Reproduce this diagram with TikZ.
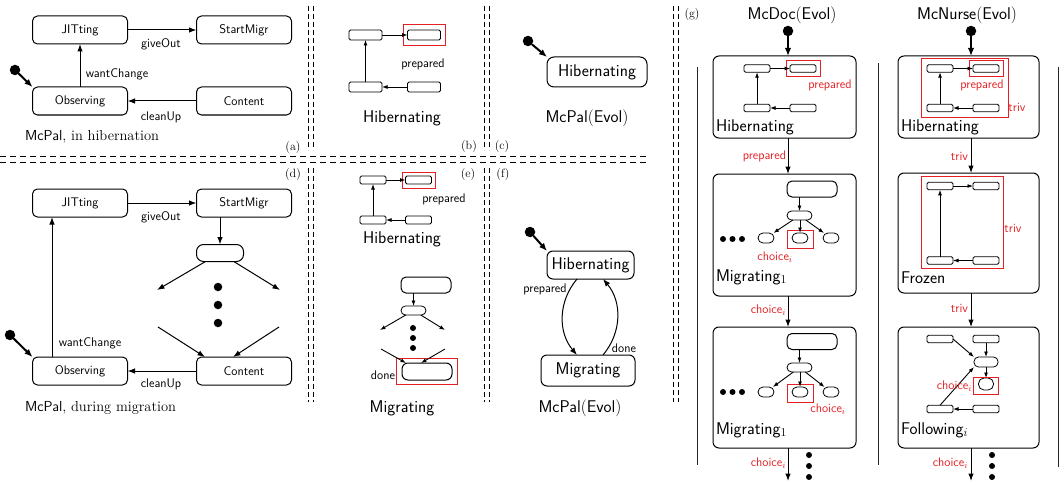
\documentclass[tikz,border=0pt]{standalone}
\usetikzlibrary{arrows.meta,fit}
\definecolor{hl}{RGB}{228,32,36}
\begin{document}
\begin{tikzpicture}[x=1pt,y=-1pt,
  every node/.style={inner sep=0pt,outer sep=0pt},
  lbl/.style={font=\sffamily\fontsize{12.5}{14}\selectfont},
  redlbl/.style={lbl,text=hl},
  big/.style={font=\sffamily\fontsize{17}{19}\selectfont},
  tag/.style={font=\rmfamily\fontsize{12}{14}\selectfont},
  captxt/.style={anchor=west,font=\rmfamily\fontsize{14.5}{16}\selectfont},
  state/.style={draw,line width=1pt,rounded corners=5pt,minimum width=95pt,minimum height=28pt,lbl},
  bigstate/.style={draw,line width=1pt,rounded corners=6pt,minimum width=143pt},
  mini/.style={draw,line width=0.8pt,rounded corners=1.5pt,minimum width=#1,minimum height=8pt},
  mini/.default=26pt,
  pill/.style={draw,line width=0.8pt,rounded corners=#1},
  pill/.default=4.5pt,
  redbox/.style={draw=hl,line width=0.9pt},
  arr/.style={-{Latex[length=7.5pt,width=5.5pt]},line width=1pt},
  sarr/.style={-{Latex[length=5.5pt,width=4pt]},line width=0.9pt},
  init/.style={-{Latex[length=8pt,width=6.5pt]},line width=2pt},
  idot/.style={circle,fill,minimum size=10.5pt},
  sdot/.style={circle,fill,minimum size=#1},
  sdot/.default=6pt,
  vsep/.style={line width=0.75pt,dash pattern=on 5pt off 3pt},
  hsep/.style={line width=0.75pt,dash pattern=on 6pt off 4pt},
  colline/.style={line width=0.9pt,black!85}
]
\useasboundingbox (0,0) rectangle (1064,484);

% ---------- panel separators ----------
\foreach \x in {308,313,484,489} {
  \draw[vsep] (\x,6) -- (\x,150);
  \draw[vsep] (\x,168) -- (\x,402);
}
\foreach \x in {673,678} \draw[vsep] (\x,6) -- (\x,402);
\draw[hsep] (0,156) -- (648,156);
\draw[hsep] (0,162) -- (648,162);

% ---------- (a) McPal, in hibernation ----------
\node[state] (jitA) at (80,30) {JITting};
\node[state] (smA) at (244,30) {StartMigr};
\node[state] (obsA) at (80,101) {Observing};
\node[state] (conA) at (244,101) {Content};
\draw[arr] (jitA) -- (smA);
\node[lbl] (goA) at (161,44) {giveOut};
\draw[arr] (obsA) -- (jitA);
\node[lbl] (wcA) at (117,74) {wantChange};
\draw[arr] (conA) -- (obsA);
\node[lbl] (cuA) at (161,117) {cleanUp};
\node[idot] (iA) at (15,70) {};
\draw[init] (iA) -- (obsA.north west);
\node[captxt] (capA) at (25,137) {\textsf{McPal}, in hibernation};
\node[tag] (tA) at (293,148) {(a)};

% ---------- (b) Hibernating ----------
\node[mini=33pt,minimum height=10pt] (b1) at (365.5,35) {};
\node[mini=33pt,minimum height=10pt] (b2) at (424,35) {};
\node[mini=33pt,minimum height=10pt] (b3) at (365.5,87) {};
\node[mini=33pt,minimum height=10pt] (b4) at (424,87) {};
\node[redbox,fit=(b2),inner xsep=4.5pt,inner ysep=5.5pt] (b2r) {};
\draw[sarr] (b1) -- (b2);
\draw[sarr] (b4) -- (b3);
\draw[sarr] (b3) -- (b1);
\node[lbl] (bp) at (423,64) {prepared};
\node[big] (bt) at (402,118) {Hibernating};
\node[tag] (tB) at (469,147) {(b)};

% ---------- (c) McPal(Evol) ----------
\node[tag] (tC) at (502,147) {(c)};
\node[draw,line width=1pt,rounded corners=7pt,minimum width=100pt,minimum height=30pt,big] (hibC) at (597,72) {Hibernating};
\node[idot] (iC) at (528,41) {};
\draw[init] (iC) -- (hibC.north west);
\node[big] (capC) at (587,118) {McPal\textrm{(}Evol\textrm{)}};

% ---------- (d) McPal, during migration ----------
\node[tag] (tD) at (293,175) {(d)};
\node[state] (jitD) at (80,203) {JITting};
\node[state] (smD) at (244,203) {StartMigr};
\node[state] (obsD) at (80,371) {Observing};
\node[state] (conD) at (244,371) {Content};
\draw[arr] (jitD) -- (smD);
\node[lbl] (goD) at (161,217) {giveOut};
\draw[arr] (conD) -- (obsD);
\node[lbl] (cuD) at (161,384) {cleanUp};
\draw[arr] ([xshift=-28pt]obsD.north) -- ([xshift=-28pt]jitD.south);
\node[lbl] (wcD) at (90,343) {wantChange};
\node[idot] (iD) at (10,335) {};
\draw[init] (iD) -- (obsD.north west);
\node[draw,line width=1pt,rounded corners=7pt,minimum width=47pt,minimum height=17pt] (sD) at (220,253) {};
\draw[arr] (smD.south -| sD) -- (sD);
\coordinate (dL1) at (157,290);
\coordinate (dR1) at (280,290);
\coordinate (dL2) at (158,327);
\coordinate (dR2) at (279,327);
\draw[arr] (sD) -- (dL1);
\draw[arr] (sD) -- (dR1);
\foreach \y in {287,305,323} \node[sdot=8.5pt] (dd\y) at (218,\y) {};
\draw[arr] (dL2) -- ([xshift=-39pt]conD.north);
\draw[arr] (dR2) -- ([xshift=-11pt]conD.north);
\node[captxt] (capD) at (25,408) {\textsf{McPal}, during migration};

% ---------- (e) Hibernating / Migrating ----------
\node[tag] (tE) at (468,175) {(e)};
\node[mini] (e1) at (373,180) {};
\node[mini] (e2) at (418.5,180) {};
\node[mini] (e3) at (373,220) {};
\node[mini] (e4) at (418.5,220) {};
\node[redbox,fit=(e2),inner xsep=3.5pt,inner ysep=4pt] (e2r) {};
\draw[sarr] (e1) -- (e2);
\draw[sarr] (e4) -- (e3);
\draw[sarr] (e3) -- (e1);
\node[lbl] (ep) at (444,199) {prepared};
\node[big] (et1) at (402,239) {Hibernating};
\node[draw,line width=1pt,rounded corners=5pt,minimum width=50pt,minimum height=16pt] (etop) at (426,285) {};
\node[pill,minimum width=25pt,minimum height=9pt] (es) at (413.5,310.5) {};
\draw[sarr] (etop.south -| es) -- (es);
\coordinate (eL1) at (380,330);
\coordinate (eR1) at (445,330);
\coordinate (eL2) at (381,349);
\coordinate (eR2) at (445,349);
\draw[sarr] (es) -- (eL1);
\draw[sarr] (es) -- (eR1);
\foreach \y in {328,338,348} \node[sdot] (ed\y) at (413,\y) {};
\node[draw,line width=1pt,rounded corners=6pt,minimum width=50pt,minimum height=17pt] (eb) at (427,371.5) {};
\node[redbox,fit=(eb),inner xsep=5.5pt,inner ysep=4.5pt] (ebr) {};
\draw[sarr] (eL2) -- ([xshift=-21pt]eb.north);
\draw[sarr] (eR2) -- ([xshift=-6pt]eb.north);
\node[lbl,anchor=east] (edn) at (395,375) {done};
\node[big] (et2) at (402,408) {Migrating};

% ---------- (f) McPal(Evol) ----------
\node[tag] (tF) at (503,175) {(f)};
\node[draw,line width=1pt,rounded corners=6pt,minimum width=87pt,minimum height=28pt,big] (hibF) at (590.5,265) {Hibernating};
\node[draw,line width=1pt,rounded corners=6pt,minimum width=94pt,minimum height=31pt,big] (migF) at (588,370.5) {Migrating};
\node[idot] (iF) at (530,232) {};
\draw[init] (iF) -- (hibF.north west);
\coordinate (fxl) at (577,0);
\coordinate (fxr) at (603,0);
\draw[arr] (hibF.south -| fxl) to[bend right=40] (migF.north -| fxl);
\draw[arr] (migF.north -| fxr) to[bend right=40] (hibF.south -| fxr);
\node[lbl] (fp) at (545,289) {prepared};
\node[lbl] (fd) at (624,348) {done};
\node[big] (capF) at (580,408) {McPal\textrm{(}Evol\textrm{)}};

% ---------- (g) McDoc(Evol) and McNurse(Evol) ----------
\node[tag] (tG) at (692,15) {(g)};
\node[big] (hDoc) at (792,15) {McDoc\textrm{(}Evol\textrm{)}};
\node[big] (hNur) at (967,15) {McNurse\textrm{(}Evol\textrm{)}};
\draw[colline] (697,67) -- (697,465);
\draw[colline] (878,63) -- (878,465);
\draw[colline] (1058,67) -- (1058,467);

% McDoc column
\node[idot] (iG) at (788,31) {};
\node[bigstate,minimum height=82pt] (gH) at (784.5,97) {};
\draw[init] (iG) -- (gH.north -| iG);
\node[mini,minimum height=7.5pt] (g1) at (757,68.5) {};
\node[mini,minimum height=7.5pt] (g2) at (803,68.5) {};
\node[mini,minimum height=7.5pt] (g3) at (757,108) {};
\node[mini,minimum height=7.5pt] (g4) at (803,108) {};
\node[redbox,fit=(g2),inner xsep=4pt,inner ysep=4.5pt] (g2r) {};
\draw[sarr] (g1) -- (g2);
\draw[sarr] (g4) -- (g3);
\draw[sarr] (g3) -- (g1);
\node[redlbl] (gp) at (830,85) {prepared};
\node[big,anchor=west] (gHt) at (716,127) {Hibernating};

\node[bigstate,minimum height=122pt] (gM) at (784.5,235) {};
\draw[arr] (gH.south -| iG) -- (gM.north -| iG);
\node[redlbl,anchor=east] (gl1) at (786,156) {prepared};
\node[draw,line width=1pt,rounded corners=5pt,minimum width=50pt,minimum height=16pt] (gMt) at (812,189) {};
\node[pill,minimum width=25pt,minimum height=9pt] (gMs) at (799.5,215.5) {};
\node[pill=5pt,minimum width=16pt,minimum height=10pt] (gMa) at (766,238) {};
\node[pill=5pt,minimum width=16pt,minimum height=10pt] (gMb) at (800,238) {};
\node[pill=5pt,minimum width=16pt,minimum height=10pt] (gMc) at (831,238) {};
\node[redbox,minimum width=26pt,minimum height=18pt] (gMr) at (800,239) {};
\draw[sarr] (gMt.south -| gMs) -- (gMs);
\draw[sarr] (gMs) -- (gMa);
\draw[sarr] (gMs.south -| gMb) -- (gMb);
\draw[sarr] (gMs) -- (gMc);
\foreach \x in {723,732.5,742} \node[sdot] (gMd\x) at (\x,239) {};
\node[redlbl] (gMl) at (775,257) {choice$_i$};
\node[big,anchor=west] (gMn) at (716,277) {Migrating$_1$};

\node[bigstate,minimum height=121pt] (gN) at (784.5,387.5) {};
\draw[arr] (gM.south -| iG) -- (gN.north -| iG);
\node[redlbl,anchor=east] (gl2) at (786,310) {choice$_i$};
\node[draw,line width=1pt,rounded corners=5pt,minimum width=50pt,minimum height=16pt] (gNt) at (812,341.5) {};
\node[pill,minimum width=25pt,minimum height=9pt] (gNs) at (799.5,367.5) {};
\node[pill=5pt,minimum width=16pt,minimum height=10pt] (gNa) at (766,392) {};
\node[pill=5pt,minimum width=16pt,minimum height=10pt] (gNb) at (800,392) {};
\node[pill=5pt,minimum width=16pt,minimum height=10pt] (gNc) at (831,392) {};
\node[redbox,minimum width=26pt,minimum height=18pt] (gNr) at (800,393) {};
\draw[sarr] (gNt.south -| gNs) -- (gNs);
\draw[sarr] (gNs) -- (gNa);
\draw[sarr] (gNs.south -| gNb) -- (gNb);
\draw[sarr] (gNs) -- (gNc);
\foreach \x in {723,732.5,742} \node[sdot] (gNd\x) at (\x,392) {};
\node[redlbl] (gNl) at (828,409) {choice$_i$};
\node[big,anchor=west] (gNn) at (716,430) {Migrating$_1$};
\coordinate (gEnd) at (788,481);
\draw[arr] (gN.south -| iG) -- (gEnd);
\node[redlbl,anchor=east] (gl3) at (786,463) {choice$_i$};
\foreach \y in {455,466,477} \node[sdot] (gv\y) at (809,\y) {};

% McNurse column
\node[idot] (iN) at (971,31) {};
\node[bigstate,minimum width=141pt,minimum height=82pt] (nH) at (968.5,97) {};
\draw[init] (iN) -- (nH.north -| iN);
\node[mini,minimum height=7.5pt] (n1) at (940,68.5) {};
\node[mini,minimum height=7.5pt] (n2) at (986,68.5) {};
\node[mini,minimum height=7.5pt] (n3) at (940,108) {};
\node[mini,minimum height=7.5pt] (n4) at (986,108) {};
\node[redbox,fit=(n2),inner xsep=4pt,inner ysep=4.5pt] (n2r) {};
\node[redbox,minimum width=87pt,minimum height=59pt] (nHr) at (964.5,87.5) {};
\draw[sarr] (n1) -- (n2);
\draw[sarr] (n4) -- (n3);
\draw[sarr] (n3) -- (n1);
\node[redlbl] (np) at (982,85) {prepared};
\node[redlbl] (nt1) at (1017,107) {triv};
\node[big,anchor=west] (nHt) at (901,127) {Hibernating};

\node[bigstate,minimum width=141pt,minimum height=120pt] (nF) at (968.5,233) {};
\draw[arr] (nH.south -| iN) -- (nF.north -| iN);
\node[redlbl,anchor=east] (nl1) at (968,156) {triv};
\node[mini,minimum height=7.5pt] (r1) at (940,186) {};
\node[mini,minimum height=7.5pt] (r2) at (986,186) {};
\node[mini,minimum height=7.5pt] (r3) at (940,260.5) {};
\node[mini,minimum height=7.5pt] (r4) at (986,260.5) {};
\node[redbox,minimum width=82pt,minimum height=92pt] (nFr) at (962,222) {};
\draw[sarr] (r1) -- (r2);
\draw[sarr] (r4) -- (r3);
\draw[sarr] (r3) -- (r1);
\node[redlbl] (nt2) at (1013,228) {triv};
\node[big,anchor=west] (nFt) at (901,278) {Frozen};

\node[bigstate,minimum width=141pt,minimum height=121pt] (nW) at (968.5,387.5) {};
\draw[arr] (nF.south -| iN) -- (nW.north -| iN);
\node[redlbl,anchor=east] (nl2) at (968,308) {triv};
\node[mini,minimum height=7.5pt] (w1) at (940,339) {};
\node[mini,minimum height=7.5pt] (w2) at (986,339) {};
\node[mini,minimum height=7.5pt] (w3) at (940,409) {};
\node[mini,minimum height=7.5pt] (w4) at (986,409) {};
\node[pill,minimum width=24pt,minimum height=10pt] (ws) at (986,362) {};
\node[pill=5.5pt,minimum width=15pt,minimum height=12pt] (wo) at (986,384) {};
\node[redbox,minimum width=25pt,minimum height=17pt] (wor) at (986,385.5) {};
\draw[sarr] (w1.east) -- (ws.north west);
\draw[sarr] (w2) -- (ws);
\draw[sarr] (ws) -- (wo);
\draw[sarr] (w4) -- (w3);
\draw[sarr] (w3.north) -- (ws.south west);
\node[redlbl,anchor=east] (wl) at (972,386) {choice$_i$};
\node[big,anchor=west] (nWt) at (901,430) {Following$_i$};
\coordinate (nEnd) at (971,481);
\draw[arr] (nW.south -| iN) -- (nEnd);
\node[redlbl,anchor=east] (nl3) at (968,463) {choice$_i$};
\foreach \y in {455,466,477} \node[sdot] (nv\y) at (992,\y) {};
\end{tikzpicture}
\end{document}
